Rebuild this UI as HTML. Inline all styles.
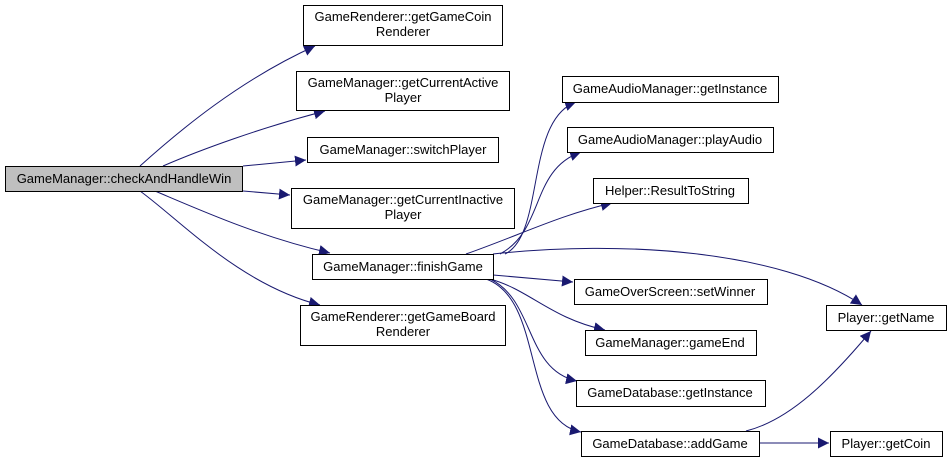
<!DOCTYPE html>
<html><head><meta charset="utf-8"><style>
body{margin:0;background:#fff;}
svg{display:block;font-family:"Liberation Sans",sans-serif;font-size:13px;}
.n{fill:#fff;stroke:#000;stroke-width:1;}
.e{fill:none;stroke:#191970;stroke-width:1;}
text{fill:#000;text-anchor:middle;}
</style></head><body>
<svg width="952" height="463" viewBox="0 0 952 463">
<defs><marker id="a" viewBox="0 0 10 10" refX="10" refY="5" markerWidth="11" markerHeight="11" markerUnits="userSpaceOnUse" orient="auto"><path d="M0,0 L10,5 L0,10 z" fill="#191970"/></marker></defs>
<g class="e" marker-end="url(#a)">
<path d="M140,166 C180,130 240,80 315,46"/>
<path d="M163,166 C200,150 260,128 325,111"/>
<path d="M243,166 L306,160"/>
<path d="M243,191 L290,195"/>
<path d="M155,191 C200,210 260,237 330,253"/>
<path d="M140,191 C180,220 240,285 320,305"/>
<path d="M505,254 C545,235 525,120 576,102"/>
<path d="M500,254 C545,230 530,170 581,152"/>
<path d="M466,254 C520,235 560,215 612,203"/>
<path d="M493,254 C620,240 780,250 862,305"/>
<path d="M493,275 L573,282"/>
<path d="M490,279 C530,290 550,318 605,330"/>
<path d="M490,279 C535,300 525,370 577,381"/>
<path d="M486,279 C545,300 520,420 581,432"/>
<path d="M746,431 C790,420 830,380 871,331"/>
<path d="M759,443 L829,443"/>
</g>
<rect x="5.5" y="166.5" width="237" height="25" fill="#bfbfbf" stroke="#000"/>
<text x="124" y="183">GameManager::checkAndHandleWin</text>
<rect class="n" x="303.5" y="5.5" width="199" height="40"/><text x="403" y="21">GameRenderer::getGameCoin</text><text x="403" y="36">Renderer</text>
<rect class="n" x="296.5" y="71.5" width="213" height="39"/><text x="403" y="87">GameManager::getCurrentActive</text><text x="403" y="102">Player</text>
<rect class="n" x="307.5" y="137.5" width="191" height="25"/><text x="403" y="154">GameManager::switchPlayer</text>
<rect class="n" x="291.5" y="188.5" width="223" height="40"/><text x="403" y="204">GameManager::getCurrentInactive</text><text x="403" y="219">Player</text>
<rect class="n" x="312.5" y="254.5" width="181" height="25"/><text x="403" y="271">GameManager::finishGame</text>
<rect class="n" x="300.5" y="305.5" width="205" height="40"/><text x="403" y="321">GameRenderer::getGameBoard</text><text x="403" y="336">Renderer</text>
<rect class="n" x="562.5" y="76.5" width="216" height="26"/><text x="670" y="93">GameAudioManager::getInstance</text>
<rect class="n" x="567.5" y="127.5" width="206" height="25"/><text x="670" y="144">GameAudioManager::playAudio</text>
<rect class="n" x="593.5" y="178.5" width="155" height="25"/><text x="670" y="195">Helper::ResultToString</text>
<rect class="n" x="574.5" y="279.5" width="193" height="25"/><text x="670" y="296">GameOverScreen::setWinner</text>
<rect class="n" x="585.5" y="330.5" width="171" height="25"/><text x="670" y="347">GameManager::gameEnd</text>
<rect class="n" x="576.5" y="380.5" width="189" height="26"/><text x="670" y="397">GameDatabase::getInstance</text>
<rect class="n" x="581.5" y="431.5" width="178" height="25"/><text x="670" y="448">GameDatabase::addGame</text>
<rect class="n" x="826.5" y="305.5" width="120" height="25"/><text x="886" y="322">Player::getName</text>
<rect class="n" x="830.5" y="431.5" width="112" height="25"/><text x="886" y="448">Player::getCoin</text>
</svg>
</body></html>
